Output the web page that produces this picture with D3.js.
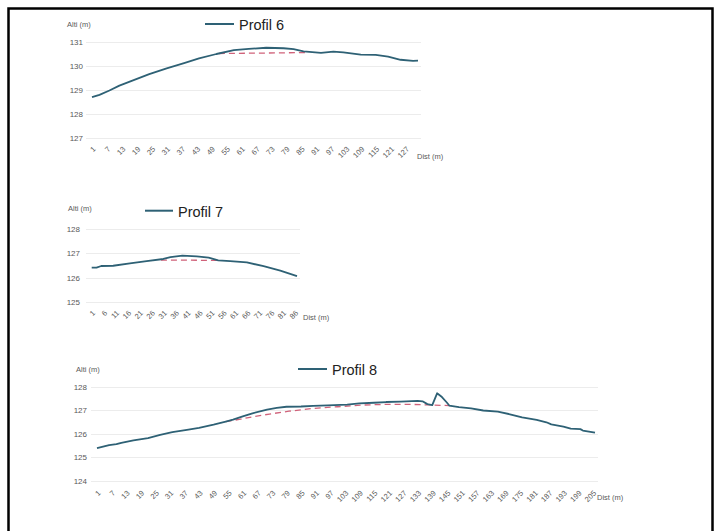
<!DOCTYPE html>
<html><head><meta charset="utf-8">
<script src="https://cdn.jsdelivr.net/npm/d3@7/dist/d3.min.js"></script>
<style>body{margin:0;background:#fff}svg{display:block}</style>
</head><body>
<svg id="c" width="723" height="531"></svg>
<script>
// ---- Profil 6 ----
const dist6 = [1,4,8,12,18,24,31,38,44,51,58,64,71,78,82,86,93,98,102,109,115,120,125,130,132];
const alt6  = [128.70,128.80,128.98,129.18,129.42,129.66,129.90,130.12,130.32,130.50,130.66,130.71,130.76,130.74,130.70,130.61,130.55,130.60,130.57,130.47,130.46,130.39,130.26,130.21,130.22];
const dashDist6 = [52,70,87];
const dashAlt6  = [130.52,130.54,130.56];
const ticks6 = [1,7,13,19,25,31,37,43,49,55,61,67,73,79,85,91,97,103,109,115,121,127];
const yTicks6 = [127,128,129,130,131];

// ---- Profil 7 ----
const dist7 = [1,3,5,10,17,24,31,34,39,45,50,54,59,66,73,80,87];
const alt7  = [126.41,126.41,126.48,126.49,126.59,126.68,126.77,126.85,126.91,126.88,126.83,126.71,126.68,126.63,126.47,126.29,126.06];
const dashDist7 = [30,42,54];
const dashAlt7  = [126.72,126.72,126.71];
const ticks7 = [1,6,11,16,21,26,31,36,41,46,51,56,61,66,71,76,81,86];
const yTicks7 = [125,126,127,128];

// ---- Profil 8 ----
const dist8 = [1,6,9,11,16,22,27,32,38,43,49,54,57,61,65,71,75,79,85,90,96,104,109,115,120,126,133,135,137,139,141,143,145,146,150,155,160,166,171,176,182,186,188,193,196,200,201,206];
const alt8  = [125.39,125.52,125.56,125.62,125.72,125.82,125.96,126.07,126.17,126.25,126.39,126.52,126.60,126.74,126.87,127.03,127.10,127.15,127.16,127.19,127.21,127.24,127.29,127.32,127.35,127.37,127.40,127.38,127.26,127.22,127.72,127.56,127.33,127.20,127.13,127.08,126.99,126.94,126.83,126.70,126.59,126.49,126.40,126.31,126.22,126.20,126.14,126.05];
const dashDist8 = [54,60,66,72,80,90,100,110,120,130,140,146];
const dashAlt8  = [126.52,126.62,126.74,126.84,126.96,127.08,127.15,127.22,127.25,127.25,127.22,127.20];
const ticks8 = [1,7,13,19,25,31,37,43,49,55,61,67,73,79,85,91,97,103,109,115,121,127,133,139,145,151,157,163,169,175,181,187,193,199,205];
const yTicks8 = [124,125,126,127,128];

const titles = ["Profil 6","Profil 7","Profil 8"];
const yLabel = "Alti (m)";
const xLabel = "Dist (m)";

const svg = d3.select("#c");
const FONT = "'Liberation Sans', Arial, sans-serif";
const LINE = "#2e6175", DASH = "#d0627a", TXT = "#595959";

// outer frame
svg.append("rect").attr("x",8.5).attr("y",8.5).attr("width",704).attr("height",540)
  .attr("fill","none").attr("stroke","#000").attr("stroke-width",2.5);

const charts = [
  {dist:dist6, alt:alt6, dd:dashDist6, da:dashAlt6, ticks:ticks6, yt:yTicks6, title:titles[0],
   xd:[1,132], xr:[92,418], yd:[127,131], yr:[138,42], gx:[86,421], ylab:[67,27], yTickX:83,
   xlab:[417,159], leg:{x1:205,x2:234,y:24,tx:239,ty:30}, labY:148},
  {dist:dist7, alt:alt7, dd:dashDist7, da:dashAlt7, ticks:ticks7, yt:yTicks7, title:titles[1],
   xd:[1,87], xr:[91.7,297], yd:[125,128], yr:[301.7,229.3], gx:[86,300], ylab:[68,211], yTickX:80,
   xlab:[303,320], leg:{x1:145,x2:173,y:210.7,tx:178,ty:216.7}, labY:312},
  {dist:dist8, alt:alt8, dd:dashDist8, da:dashAlt8, ticks:ticks8, yt:yTicks8, title:titles[2],
   xd:[1,206], xr:[97,595], yd:[124,128], yr:[481,386.7], gx:[91,598], ylab:[76,372], yTickX:87,
   xlab:[597,500], leg:{x1:298,x2:327,y:369,tx:332,ty:374.5}, labY:492}
];

charts.forEach(c => {
  const x = d3.scaleLinear().domain(c.xd).range(c.xr);
  const y = d3.scaleLinear().domain(c.yd).range(c.yr);
  const g = svg.append("g");

  // gridlines
  g.selectAll(".grid").data(c.yt).join("line")
    .attr("x1",c.gx[0]).attr("x2",c.gx[1])
    .attr("y1",d=>Math.round(y(d))+0.5).attr("y2",d=>Math.round(y(d))+0.5)
    .attr("stroke","#ececec").attr("stroke-width",1);

  // y axis labels
  const ya = d3.axisLeft(y).tickValues(c.yt).tickSize(0).tickPadding(0).tickFormat(d3.format("d"));
  const yg = g.append("g").attr("transform",`translate(${c.yTickX},0)`).call(ya);
  yg.select(".domain").remove();
  yg.selectAll("text").attr("font-family",FONT).attr("font-size",8).attr("fill",TXT).attr("dy","0.32em");

  // x axis labels
  const xa = d3.axisBottom(x).tickValues(c.ticks).tickSize(0).tickPadding(0).tickFormat(d3.format("d"));
  const xg = g.append("g").attr("transform",`translate(0,${c.labY})`).call(xa);
  xg.select(".domain").remove();
  xg.selectAll("text").attr("font-family",FONT).attr("font-size",7.5).attr("fill",TXT)
    .attr("text-anchor","end").attr("dy","0.3em").attr("y",0)
    .attr("transform","translate(2,0) rotate(-45)");

  // axis titles
  g.append("text").attr("x",c.ylab[0]).attr("y",c.ylab[1]).text(yLabel)
    .attr("font-family",FONT).attr("font-size",7.5).attr("fill",TXT);
  g.append("text").attr("x",c.xlab[0]).attr("y",c.xlab[1]).text(xLabel)
    .attr("font-family",FONT).attr("font-size",7.5).attr("fill",TXT);

  // dashed reference
  const dashData = c.dd.map((d,i)=>[d,c.da[i]]);
  g.append("path").datum(dashData)
    .attr("d",d3.line().x(d=>x(d[0])).y(d=>y(d[1])))
    .attr("fill","none").attr("stroke",DASH).attr("stroke-width",1.3).attr("stroke-dasharray","6,4");

  // main line
  const data = c.dist.map((d,i)=>[d,c.alt[i]]);
  g.append("path").datum(data)
    .attr("d",d3.line().x(d=>x(d[0])).y(d=>y(d[1])))
    .attr("fill","none").attr("stroke",LINE).attr("stroke-width",1.8).attr("stroke-linejoin","round");

  // legend
  g.append("line").attr("x1",c.leg.x1).attr("x2",c.leg.x2).attr("y1",c.leg.y).attr("y2",c.leg.y)
    .attr("stroke",LINE).attr("stroke-width",2);
  g.append("text").attr("x",c.leg.tx).attr("y",c.leg.ty).text(c.title)
    .attr("font-family",FONT).attr("font-size",14.5).attr("fill","#222");
});
</script>
</body></html>
